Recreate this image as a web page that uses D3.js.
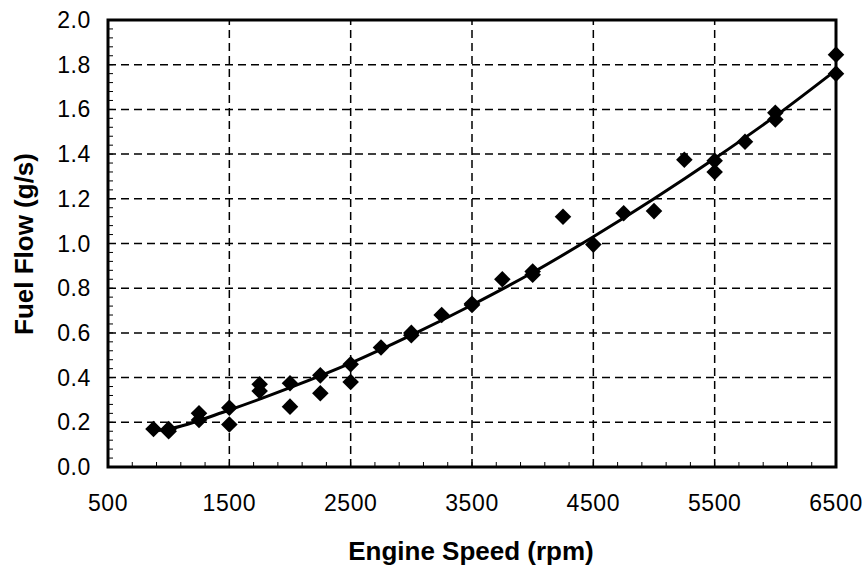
<!DOCTYPE html>
<html>
<head>
<meta charset="utf-8">
<script src="https://cdn.jsdelivr.net/npm/d3@7/dist/d3.min.js"></script>
<style>
    body {
        margin: 0;
        background: #fff;
    }

    svg {
        display: block;
        font-family: "Liberation Sans", Arial, sans-serif;
    }
</style>
</head>
<body>
<svg id="chart" width="867" height="573"></svg>
<script>
    // measured points (engine speed rpm, fuel flow g/s)
    let speeds = [875, 1000, 1000, 1250, 1250, 1500, 1500, 1750, 1750, 2000, 2000, 2250, 2250, 2500, 2500,
        2750, 3000, 3000, 3250, 3500, 3500, 3750, 4000, 4000, 4250, 4500, 4750, 5000, 5250,
        5500, 5500, 5750, 6000, 6000, 6500, 6500];
    let fuelFlow = [0.17, 0.17, 0.16, 0.24, 0.21, 0.265, 0.19, 0.37, 0.34, 0.375, 0.27, 0.41, 0.33, 0.46, 0.38,
        0.535, 0.60, 0.59, 0.68, 0.725, 0.73, 0.84, 0.86, 0.875, 1.12, 0.995, 1.135, 1.145, 1.375,
        1.37, 1.32, 1.455, 1.585, 1.555, 1.845, 1.76];

    // trend line
    let trendSpeeds = [875, 1000, 1500, 2000, 2500, 3000, 3500, 4000, 4500, 5000, 5500, 6000, 6500];
    let trendFlow = [0.16, 0.17, 0.255, 0.355, 0.465, 0.59, 0.725, 0.87, 1.03, 1.2, 1.38, 1.57, 1.776];

    let xTicks = [500, 1500, 2500, 3500, 4500, 5500, 6500];
    let yTicks = [0, 0.2, 0.4, 0.6, 0.8, 1.0, 1.2, 1.4, 1.6, 1.8, 2.0];

    let svg = d3.select("#chart");

    let x = d3.scaleLinear().domain([500, 6500]).range([108, 836]);
    let y = d3.scaleLinear().domain([0, 2]).range([467, 20]);

    // grid
    let grid = svg.append("g")
        .attr("stroke", "#000")
        .attr("stroke-width", 1.5)
        .attr("stroke-dasharray", "8,5");

    grid.selectAll("line.h")
        .data(yTicks.slice(1, -1))
        .enter()
        .append("line")
        .attr("class", "h")
        .attr("x1", x(500)).attr("x2", x(6500))
        .attr("y1", d => y(d)).attr("y2", d => y(d));

    grid.selectAll("line.v")
        .data(xTicks.slice(1, -1))
        .enter()
        .append("line")
        .attr("class", "v")
        .attr("y1", y(0)).attr("y2", y(2))
        .attr("x1", d => x(d)).attr("x2", d => x(d));

    // minor ticks pointing inward
    let xMinor = d3.range(700, 6500, 200);
    let yMinor = d3.range(0.04, 2, 0.04);

    svg.append("g")
        .attr("stroke", "#000")
        .attr("stroke-width", 1)
        .selectAll("line")
        .data(xMinor)
        .enter()
        .append("line")
        .attr("x1", d => x(d)).attr("x2", d => x(d))
        .attr("y1", y(0)).attr("y2", y(0) - 5);

    svg.append("g")
        .attr("stroke", "#000")
        .attr("stroke-width", 1)
        .selectAll("line")
        .data(yMinor)
        .enter()
        .append("line")
        .attr("x1", x(500)).attr("x2", x(500) + 5)
        .attr("y1", d => y(d)).attr("y2", d => y(d));

    // frame
    svg.append("rect")
        .attr("x", x(500)).attr("y", y(2))
        .attr("width", x(6500) - x(500))
        .attr("height", y(0) - y(2))
        .attr("fill", "none")
        .attr("stroke", "#000")
        .attr("stroke-width", 3);

    // trend line
    let line = d3.line()
        .x(d => x(d[0]))
        .y(d => y(d[1]))
        .curve(d3.curveMonotoneX);

    svg.append("path")
        .datum(d3.zip(trendSpeeds, trendFlow))
        .attr("d", line)
        .attr("fill", "none")
        .attr("stroke", "#000")
        .attr("stroke-width", 3);

    // points
    let diamond = d3.symbol().type(d3.symbolDiamond2).size(175);

    svg.append("g")
        .selectAll("path")
        .data(d3.zip(speeds, fuelFlow))
        .enter()
        .append("path")
        .attr("d", diamond)
        .attr("transform", d => `translate(${x(d[0])},${y(d[1])})`)
        .attr("fill", "#000");

    // tick labels
    svg.append("g")
        .selectAll("text")
        .data(xTicks)
        .enter()
        .append("text")
        .attr("x", d => x(d))
        .attr("y", 511)
        .attr("text-anchor", "middle")
        .attr("font-size", 23)
        .attr("letter-spacing", 0.6)
        .text(d => d);

    svg.append("g")
        .selectAll("text")
        .data(yTicks)
        .enter()
        .append("text")
        .attr("x", 91)
        .attr("y", d => y(d) + 8)
        .attr("text-anchor", "end")
        .attr("font-size", 23)
        .attr("letter-spacing", 0.6)
        .text(d => d.toFixed(1));

    // axis titles
    svg.append("text")
        .attr("x", 471)
        .attr("y", 560)
        .attr("text-anchor", "middle")
        .attr("font-size", 26)
        .attr("font-weight", "bold")
        .text("Engine Speed (rpm)");

    svg.append("text")
        .attr("transform", "translate(33,244) rotate(-90)")
        .attr("text-anchor", "middle")
        .attr("font-size", 26)
        .attr("font-weight", "bold")
        .text("Fuel Flow (g/s)");
</script>
</body>
</html>
